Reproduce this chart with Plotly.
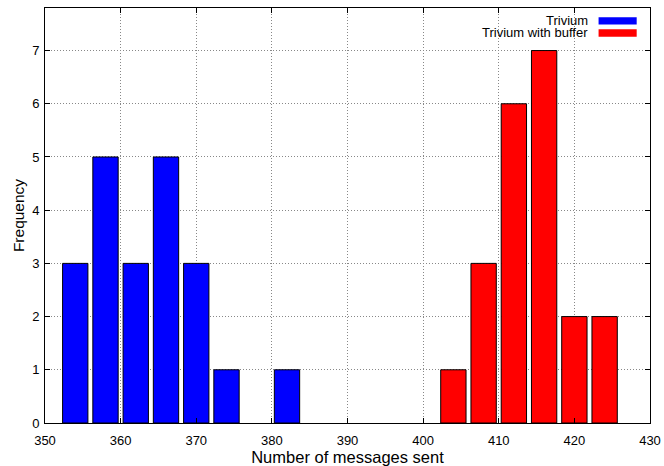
import plotly.graph_objects as go

# Data
trivium_bins = [354, 358, 362, 366, 370, 374, 382]
trivium_freq = [3, 5, 3, 5, 3, 1, 1]
buffer_bins = [404, 408, 412, 416, 420, 424]
buffer_freq = [1, 3, 6, 7, 2, 2]
series_names = ["Trivium", "Trivium with buffer"]
series_colors = ["#0000ff", "#ff0000"]
x_ticks = [350, 360, 370, 380, 390, 400, 410, 420, 430]
y_ticks = [0, 1, 2, 3, 4, 5, 6, 7]
bar_width = 3.35

FONT = "Liberation Sans, Arial, Helvetica, sans-serif"

fig = go.Figure()
for name, xs, ys, col in [
    (series_names[0], trivium_bins, trivium_freq, series_colors[0]),
    (series_names[1], buffer_bins, buffer_freq, series_colors[1]),
]:
    fig.add_trace(go.Bar(
        x=xs, y=ys, name=name, width=bar_width,
        marker=dict(color=col, line=dict(color="black", width=1)),
        showlegend=False,
    ))

# white box behind legend (hides grid, like gnuplot key)
fig.add_shape(type="rect", xref="paper", yref="paper",
              x0=0.72, x1=0.995, y0=0.918, y1=0.998,
              fillcolor="white", line=dict(width=0), layer="below")

# custom legend (text right-aligned, swatch on right like gnuplot)
legend_y = [0.969, 0.940]
for i, (name, col) in enumerate(zip(series_names, series_colors)):
    fig.add_annotation(
        xref="paper", yref="paper", x=0.900, y=legend_y[i],
        text=name, showarrow=False, xanchor="right", yanchor="middle",
        font=dict(family=FONT, size=13, color="black"),
    )
    fig.add_shape(
        type="rect", xref="paper", yref="paper",
        x0=0.915, x1=0.978, y0=legend_y[i] - 0.009, y1=legend_y[i] + 0.009,
        fillcolor=col, line=dict(width=0),
    )

axis_common = dict(
    showline=True, linecolor="black", linewidth=1, mirror="ticks",
    ticks="inside", ticklen=5, tickcolor="black",
    showgrid=True, gridcolor="#888888", griddash="1px,2px", gridwidth=1,
    zeroline=False, automargin=False,
    tickfont=dict(family=FONT, size=13, color="black"),
)

fig.update_layout(
    width=664, height=466,
    margin=dict(l=45, r=14, t=8, b=43),
    paper_bgcolor="white", plot_bgcolor="white",
    barmode="overlay",
    xaxis=dict(range=[350, 430], tickvals=x_ticks, ticklabelstandoff=5,
               title=dict(text="Number of messages sent", standoff=3,
                          font=dict(family=FONT, size=16.5, color="black")),
               **axis_common),
    yaxis=dict(range=[0, 7.8], tickvals=y_ticks, ticklabelstandoff=2,
               title=dict(text="Frequency", standoff=3,
                          font=dict(family=FONT, size=15.5, color="black")),
               **axis_common),
)

# remove the default 8px page margin so the 664x466 figure fills the window
fig.write_html("out.html",
               config={"displayModeBar": False},
               post_script="document.body.style.margin='0';document.body.style.overflow='hidden';")
